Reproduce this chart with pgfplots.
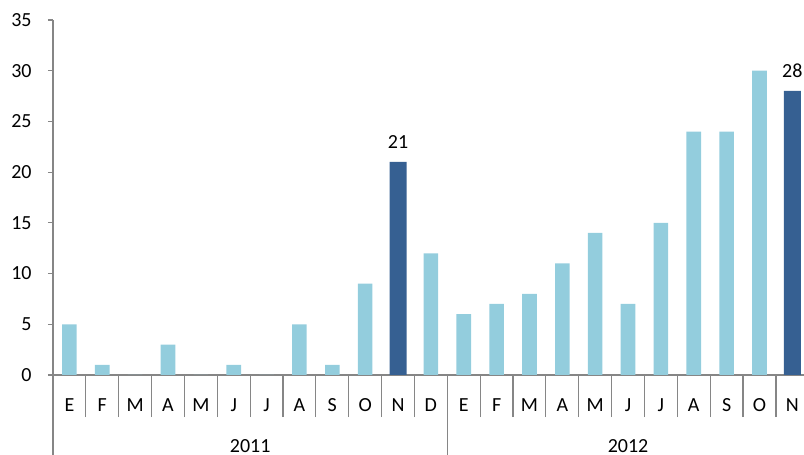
\documentclass[border=0pt]{standalone}
\usepackage{fontspec}
\setmainfont{Carlito}
\usepackage{pgfplots}
\pgfplotsset{compat=1.18}
\definecolor{lightbar}{HTML}{93CDDD}
\definecolor{darkbar}{HTML}{366092}
\definecolor{axisgray}{HTML}{868686}
\begin{document}
\begin{tikzpicture}
\begin{axis}[
  scale only axis, width=375.5pt, height=177.5pt,
  xmin=-0.5, xmax=22.355, ymin=0, ymax=35,
  axis lines*=left,
  axis line style={axisgray, line width=0.9pt},
  tick align=outside, major tick length=2.5pt,
  ytick={0,5,...,35},
  ytick style={axisgray, line width=0.6pt},
  yticklabel style={xshift=-4.7pt},
  xtick={0,...,22},
  xticklabels={E,F,M,A,M,J,J,A,S,O,N,D,E,F,M,A,M,J,J,A,S,O,N},
  major x tick style={draw=none},
  minor xtick={-0.5,0.5,...,21.5},
  minor tick length=21pt,
  minor x tick style={axisgray, line width=0.6pt},
  xticklabel style={anchor=base, yshift=-16pt},
  tick label style={font=\fontsize{10}{12}\selectfont, text=black},
  /pgf/number format/assume math mode=true,
  clip=false,
]
\addplot[ybar, bar width=7.3pt, bar shift=0pt, fill=lightbar, draw=none] coordinates {
(0,5) (1,1) (2,0) (3,3) (4,0) (5,1) (6,0) (7,5) (8,1) (9,9) (11,12)
(12,6) (13,7) (14,8) (15,11) (16,14) (17,7) (18,15) (19,24) (20,24) (21,30)
};
\addplot[ybar, bar width=8.5pt, bar shift=0pt, fill=darkbar, draw=none,
  nodes near coords, every node near coord/.append style={font=\fontsize{10}{12}\selectfont, text=black, yshift=3pt}] coordinates {
(10,21) (22,28)
};
\draw[axisgray, line width=0.6pt] (axis cs:-0.5,0) -- ++(0pt,-40pt);
\draw[axisgray, line width=0.6pt] (axis cs:11.5,0) -- ++(0pt,-40pt);
\node[font=\fontsize{10}{12}\selectfont, anchor=base, inner sep=0pt] at (axis cs:5.5,0) [yshift=-38.6pt] {2011};
\node[font=\fontsize{10}{12}\selectfont, anchor=base, inner sep=0pt] at (axis cs:17,0) [yshift=-38.6pt] {2012};
\coordinate (bl) at (rel axis cs:0,0);
\coordinate (tr) at (rel axis cs:1,1);
\end{axis}
\pgfresetboundingbox
\path[use as bounding box] ([xshift=-26.5pt,yshift=-40pt]bl) rectangle ([yshift=10pt]tr);
\end{tikzpicture}
\end{document}
